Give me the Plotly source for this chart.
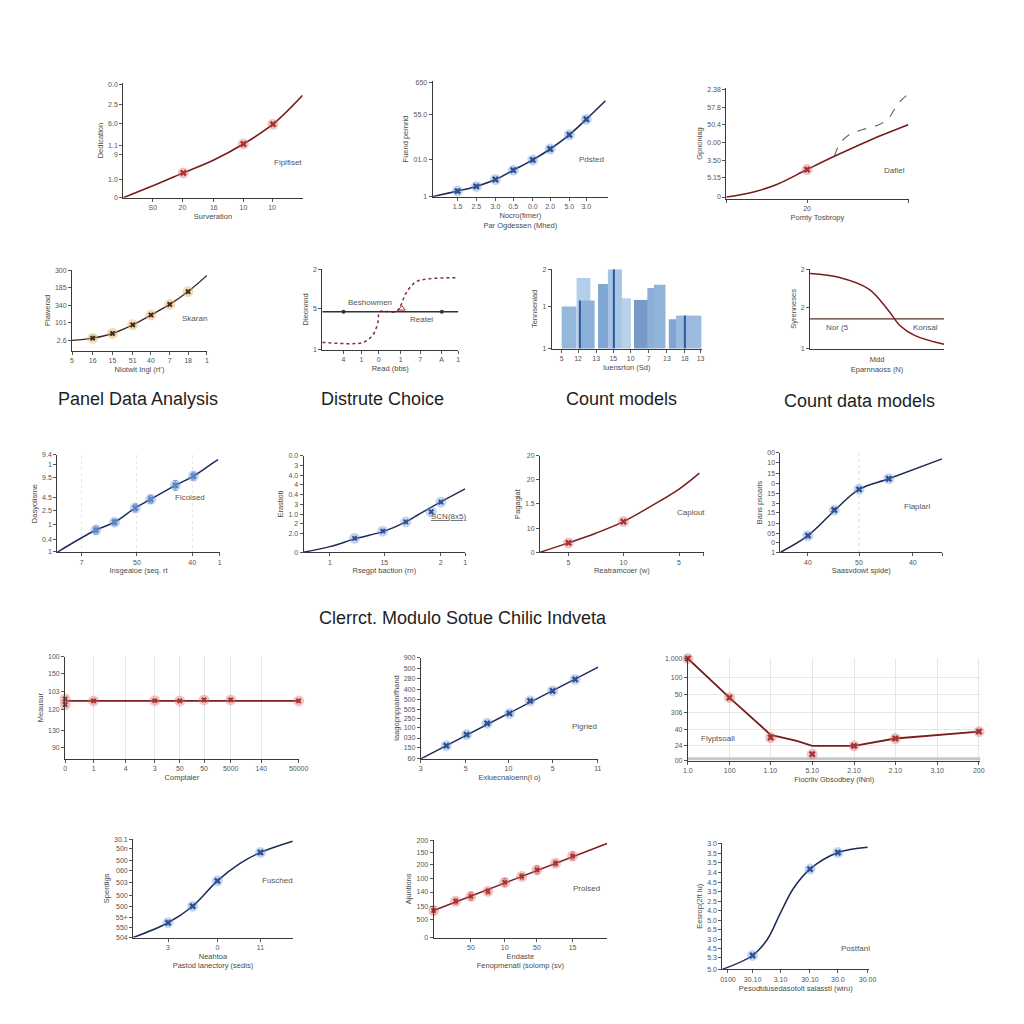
import plotly.graph_objects as go

W, H = 1024, 1024
NAVY = "#1c2a5a"
DRED = "#7a1c1c"
RED = "#a83232"
BLUE = "#2f4f95"
BROWN = "#3e2a1c"
ORANGE = "#b5762a"
HALO_B = "rgba(110,150,215,0.40)"
HALO_R = "rgba(215,110,110,0.40)"
HALO_O = "rgba(225,175,105,0.45)"
FONT = "Liberation Sans, Arial, sans-serif"
TICK_FONT = dict(family=FONT, size=7, color="#555555")
TITLE_FONT = dict(family=FONT, size=7.5, color="#4a4a4a")
LABEL_FONT = dict(family=FONT, size=8, color="#555555")

# ================= DATA =================
# Panel 1
p1_line_x = [0, 16.5, 33.5, 50.5, 67, 83.5, 100]
p1_line_y = [0, 10.4, 21.7, 33, 47, 64.3, 89.6]
p1_pts_x = [33.5, 67, 83.5]
p1_pts_y = [21.7, 47, 64.3]
p1_xt = [16.5, 33, 50.5, 67, 83]
p1_xl = ["S0", "20", "16", "10", "10"]
p1_yt = [0, 16, 37.4, 46, 65, 81.7, 99.4]
p1_yl = ["0", "1.0", "9", "1.1", "6.0", "2.5", "0.0"]

# Panel 2
p2_line_x = [0, 14.2, 24.9, 35.8, 46, 57.1, 67, 77.9, 87.6, 98.5]
p2_line_y = [0, 4.9, 8.9, 14.9, 23, 31.9, 41.4, 53.7, 67.2, 83.3]
p2_pts_x = [14.2, 24.9, 35.8, 46, 57.1, 67, 77.9, 87.6]
p2_pts_y = [4.9, 8.9, 14.9, 23, 31.9, 41.4, 53.7, 67.2]
p2_xt = [14.2, 24.9, 35.8, 46, 57.1, 67, 77.9, 87.6]
p2_xl = ["1.5", "2.5", "3.0", "0.5", "0.0", "2.0", "5.0", "3.0"]
p2_yt = [0, 32, 71, 99]
p2_yl = ["1", "01.0", "55.0", "650"]

# Panel 3
p3_line_x = [0, 13.3, 27.7, 44.3, 59.3, 78.2, 99.8]
p3_line_y = [1.5, 5.4, 12.9, 26.4, 38.4, 52.6, 67]
p3_dash_x = [59.3, 62, 67.4, 74.6, 83.6, 89, 94.4, 99.8]
p3_dash_y = [38.4, 49, 58, 62.5, 67, 73, 86.5, 95]
p3_pts_x = [44.3]
p3_pts_y = [26.4]
p3_xt = [0, 44.3, 100]
p3_xl = ["", "20", ""]
p3_yt = [1.5, 19.5, 34.8, 51, 66.9, 83, 99]
p3_yl = ["0", "5.15", "3.50", "0.00", "50.4", "57.8", "2.38"]

# Panel 4
p4_line_x = [0, 15.3, 30, 45, 58.5, 72.4, 86, 100]
p4_line_y = [12.7, 15.5, 21.3, 32, 44.3, 57.4, 73.4, 93.5]
p4_pts_x = [15.3, 30, 45, 58.5, 72.4, 86]
p4_pts_y = [15.5, 21.3, 32, 44.3, 57.4, 73.4]
p4_xt = [0, 15.3, 30, 45, 58.5, 72.4, 86, 100]
p4_xl = ["5", "16", "15", "51", "40", "7", "18", "1"]
p4_yt = [12.7, 35, 56.5, 79, 100]
p4_yl = ["2.6", "101", "340", "185", "300"]

# Panel 5
p5_flat_x = [0, 100]
p5_flat_y = [47, 47]
p5_sig_x = [0, 20.5, 30.1, 37.3, 41, 42.2, 54.2, 57.8, 61.4, 68.6, 78.3, 100]
p5_sig_y = [9, 7.4, 9, 18.4, 34.8, 47.1, 47.1, 55.3, 69.6, 84, 88, 89.3]
p5_pts_x = [15.6, 87.9]
p5_pts_y = [47, 47]
p5_tri_x = [58.5]
p5_tri_y = [51]
p5_xt = [15.5, 28.8, 41.5, 57.7, 72, 87.7, 100]
p5_xl = ["4", "1", "0", "1", "7", "A", "1"]
p5_yt = [0, 51, 100]
p5_yl = ["1", "5", "2"]

# Panel 6 (bars)
p6_bar_x = [11.5, 21.1, 23.6, 35.5, 42.1, 49.8, 59.6, 66.5, 72.0, 80.8, 91.4]
p6_bar_w = [9.9, 9.2, 9.9, 9.4, 9.4, 5.9, 9.5, 5.5, 7.7, 5.5, 17.2]
p6_bar_h = [53, 88.8, 60.5, 81.3, 100, 63.4, 61.3, 76.3, 80.4, 37, 41.6]
p6_bar_c = ["#8fb4dc", "#b0cdea", "#86acd6", "#7aa2cf", "#a3c3e5", "#b4cfea",
            "#6e96c6", "#86acd6", "#8ab0d9", "#7aa2cf", "#95b8de"]
p6_edge_x = [18.9, 41.2, 88.8]
p6_edge_h = [60.5, 100, 41.6]
p6_xt = [6.6, 17.5, 29.6, 41, 52.6, 64.7, 76.8, 88.8, 99.3]
p6_xl = ["5", "12", "13", "15", "10", "7", "13", "18", "13"]
p6_yt = [0, 53, 100]
p6_yl = ["1", "1", "2"]

# Panel 7
p7_curve_x = [0, 22, 43.9, 58.5, 67, 78, 100]
p7_curve_y = [94.6, 89.6, 75, 48, 29.2, 16.7, 5.4]
p7_flat_x = [0, 100]
p7_flat_y = [37.5, 37.5]
p7_yt = [0, 52, 100]
p7_yl = ["1", "2", "2"]

# Panel 8
p8_line_x = [0, 23.8, 35.3, 48, 57.5, 72.7, 83.8, 94.9, 98.9]
p8_line_y = [0, 22.8, 30.9, 45.5, 54.4, 68.7, 78.2, 90.8, 95.2]
p8_pts_x = [23.8, 35.3, 48, 57.5, 72.7, 83.8]
p8_pts_y = [22.8, 30.9, 45.5, 54.4, 68.7, 78.2]
p8_err = [4, 3, 4, 4, 5, 4]
p8_xt = [15, 49, 83, 100]
p8_xl = ["7", "50", "40", "1"]
p8_yt = [0.6, 12.6, 28.9, 43, 56, 77, 89.8, 100]
p8_yl = ["1", "0.4", "1", "2.5", "4.5", "9.5", "1", "9.4"]

# Panel 9
p9_line_x = [0, 16.3, 32.7, 50, 63.3, 70.4, 84.7, 100]
p9_line_y = [0, 5.8, 14.4, 21.9, 31.5, 38.4, 52.1, 65.8]
p9_pts_x = [31.6, 49, 63.3, 79, 85]
p9_pts_y = [14.4, 21.9, 31.5, 42, 52]
p9_xt = [16.3, 50, 84.9, 100]
p9_xl = ["1", "15", "2", "1"]
p9_yt = [0, 19.5, 29.8, 39.4, 49.3, 59.6, 69.9, 79.4, 90.4, 100]
p9_yl = ["0", "2.0", "2", "1.0", "3", "0.4", "4", "4.0", "3", "0.0"]

# Panel 10
p10_line_x = [0, 17.4, 34.4, 51, 68.4, 85, 97.4]
p10_line_y = [0, 9.7, 20, 31.8, 48.3, 65.5, 82.1]
p10_pts_x = [17.4, 51]
p10_pts_y = [9.7, 31.8]
p10_xt = [17.4, 51, 85, 100]
p10_xl = ["5", "10", "5", ""]
p10_yt = [0, 25, 51, 75, 100]
p10_yl = ["0", "10", "1.5", "20", "20"]

# Panel 11
p11_line_x = [0, 17, 33.3, 48.6, 67, 100]
p11_line_y = [0, 16.7, 41.7, 63.3, 74, 94]
p11_pts_x = [17, 33.3, 48.6, 67]
p11_pts_y = [16.7, 42.5, 63.3, 74]
p11_ref_x = 48.6
p11_xt = [17, 48.6, 81.9, 100]
p11_xl = ["40", "50", "40", ""]
p11_yt = [0, 9.3, 19.3, 29, 40, 49.3, 59, 69.3, 79.3, 90, 100]
p11_yl = ["1", "0", "05", "10", "15", "3", "15", "0", "15", "10", "00"]

# Panel 12
p12_flat_x = [0, 100]
p12_flat_y = [56.6, 56.6]
p12_pts_x = [0, 0, 12.2, 38.4, 49.1, 59.5, 70.9, 100]
p12_pts_y = [58.5, 53, 56.6, 56.8, 56.6, 57.6, 57.6, 56.6]
p12_xt = [0, 12.2, 26, 38.4, 49.1, 59.5, 70.9, 84, 100]
p12_xl = ["0", "1", "4", "3", "50", "50", "5000", "140", "50000"]
p12_yt = [10.7, 28, 48.4, 66, 83, 100]
p12_yl = ["90", "130", "120", "103", "150", "100"]

# Panel 13
p13_line_x = [0, 100]
p13_line_y = [0, 90.5]
p13_pts_x = [14.4, 25.8, 37.4, 50, 61.6, 74.3, 87]
p13_pts_y = [13, 23.9, 35, 44.8, 57.2, 67, 78.4]
p13_xt = [0, 25.3, 49.4, 74.3, 99.8]
p13_xl = ["3", "5", "10", "5", "11"]
p13_yt = [0.7, 10.7, 20.5, 31, 40, 48.9, 58.6, 68.4, 79, 89, 100]
p13_yl = ["60", "150", "030", "100", "250", "505", "500", "400", "280", "500", "900"]

# Panel 14
p14_line_x = [0, 14.2, 28.3, 37.2, 42.5, 56.8, 70.9, 99.5]
p14_line_y = [100, 61.7, 25.4, 19.5, 14.6, 14.6, 21.8, 28.6]
p14_pts_x = [0, 14.2, 28.3, 42.5, 56.8, 70.9, 99.5]
p14_pts_y = [100, 61.7, 22.7, 6.5, 14.6, 21.8, 28.6]
p14_base_y = 2
p14_xt = [0, 14.3, 28.2, 42.5, 56.8, 70.9, 85.2, 99.4]
p14_xl = ["1.0", "100", "1.10", "5.10", "2.10", "2.10", "3.10", "200"]
p14_yt = [0, 14.6, 31, 47.2, 64.4, 81, 100]
p14_yl = ["00", "24", "40", "306", "50", "100", "1.000"]

# Panel 15
p15_line_x = [0, 21.9, 37.3, 52.8, 67, 79.8, 100]
p15_line_y = [0, 15.1, 31.9, 57.7, 75.5, 86.6, 98]
p15_pts_x = [21.9, 37.3, 52.8, 79.8]
p15_pts_y = [15.1, 31.9, 57.7, 86.6]
p15_xt = [21.9, 52.8, 79.8]
p15_xl = ["3", "0", "11"]
p15_yt = [0, 10, 20.1, 31.9, 42.6, 56, 67.8, 78.2, 90.6, 100]
p15_yl = ["504", "550", "55+", "500", "500", "503", "060", "500", "50n", "30.1"]

# Panel 16
p16_line_x = [0, 100]
p16_line_y = [27.8, 96.6]
p16_pts_x = [0, 12.7, 21.5, 31.3, 41, 50.8, 59.6, 70.3, 80.1]
p16_pts_y = [27.8, 37.3, 42.4, 47.5, 56.7, 62.8, 69.5, 76.3, 83.7]
p16_err = [4, 3, 4, 3, 4, 3, 4, 3, 4]
p16_xt = [21.5, 41, 59.6, 80.1]
p16_xl = ["50", "10", "50", "15"]
p16_yt = [0, 18.6, 32.2, 46.8, 61, 74.6, 87.5, 100]
p16_yl = ["0", "500", "150", "140", "100", "200", "150", "200"]

# Panel 17
p17_line_x = [0, 20.6, 30.6, 39.6, 48.6, 59.7, 78.7, 98.9]
p17_line_y = [0, 11, 23.7, 44.8, 64.5, 79.5, 92.6, 96.9]
p17_pts_x = [20.6, 59.7, 78.7]
p17_pts_y = [11, 79.5, 92.6]
p17_xt = [3.8, 20.6, 39.6, 59.7, 78.7, 98.9]
p17_xl = ["0100", "30.10", "3.10", "30.10", "30.0", "30.00"]
p17_yt = [0, 9.2, 16.6, 23.7, 31.6, 38.9, 46.6, 53.9, 61.8, 69.2, 77.1, 84.7, 92.1, 100]
p17_yl = ["5.0", "5.3", "4.5", "3.0", "6.5", "5.0", "4.0", "2.5", "3.5", "4.5", "3.4", "3.5", "3.5", "3.0"]

section_titles = ["Panel Data Analysis", "Distrute Choice", "Count models",
                  "Count data models", "Clerrct. Modulo Sotue Chilic Indveta"]

# ================= FIGURE =================
fig = go.Figure()


def axn(n, a):
    return a if n == 1 else f"{a}{n}"


def add_axes(n, box, xt, xl, yt, yl, xtitle, ytitle, gx=False, gy=False, gdash="solid"):
    x0, y0, x1, y1 = box
    common = dict(range=[0, 100], showline=True, linecolor="#3a3a3a", linewidth=1,
                  ticks="outside", ticklen=3, tickcolor="#555", tickfont=TICK_FONT,
                  zeroline=False, fixedrange=True, gridcolor="#e6e6e6", griddash=gdash)
    xa = dict(common, domain=[x0 / W, x1 / W], anchor=axn(n, "y"), tickvals=xt, ticktext=xl,
              showgrid=gx, title=dict(text=xtitle, font=TITLE_FONT, standoff=3))
    ya = dict(common, domain=[1 - y1 / H, 1 - y0 / H], anchor=axn(n, "x"), tickvals=yt, ticktext=yl,
              showgrid=gy, title=dict(text=ytitle, font=TITLE_FONT, standoff=3))
    fig.update_layout(**{("xaxis" if n == 1 else f"xaxis{n}"): xa,
                         ("yaxis" if n == 1 else f"yaxis{n}"): ya})


def line(n, x, y, color, width=1.5, dash="solid", shape="spline"):
    fig.add_trace(go.Scatter(x=x, y=y, mode="lines", cliponaxis=False,
                             line=dict(color=color, width=width, dash=dash, shape=shape),
                             xaxis=axn(n, "x"), yaxis=axn(n, "y"), hoverinfo="skip"))


def points(n, x, y, color, halo, err=None, symbol="x", size=6):
    fig.add_trace(go.Scatter(x=x, y=y, mode="markers", cliponaxis=False,
                             marker=dict(symbol="circle", size=11, color=halo),
                             xaxis=axn(n, "x"), yaxis=axn(n, "y"), hoverinfo="skip"))
    kw = {}
    if err is not None:
        kw["error_y"] = dict(type="data", array=err, color=halo.replace("0.40", "0.9").replace("0.45", "0.9"),
                             thickness=1, width=2)
    fig.add_trace(go.Scatter(x=x, y=y, mode="markers", cliponaxis=False,
                             marker=dict(symbol=symbol, size=size, color=color),
                             xaxis=axn(n, "x"), yaxis=axn(n, "y"), hoverinfo="skip", **kw))


def label(n, x, y, text, font=LABEL_FONT):
    fig.add_annotation(x=x, y=y, xref=axn(n, "x"), yref=axn(n, "y"), text=text,
                       showarrow=False, font=font, xanchor="center", yanchor="middle")


# Panel 1
add_axes(1, (120, 80, 302, 195), p1_xt, p1_xl, p1_yt, p1_yl, "Surveration", "Dedication")
line(1, p1_line_x, p1_line_y, DRED, 1.6)
points(1, p1_pts_x, p1_pts_y, RED, HALO_R)
label(1, 91.8, 30.4, "Fiplfiset")

# Panel 2
add_axes(2, (434, 78, 612, 194), p2_xt, p2_xl, p2_yt, p2_yl,
         "Nocro(fimer)<br>Par Ogdessen (Mhed)", "Fuend pernrid")
line(2, p2_line_x, p2_line_y, NAVY, 1.6)
points(2, p2_pts_x, p2_pts_y, BLUE, HALO_B)
label(2, 90.4, 31.9, "Pdsted")

# Panel 3
add_axes(3, (732, 85, 917, 196), p3_xt, p3_xl, p3_yt, p3_yl, "Pomty Tosbropy", "Gpnoniag")
line(3, p3_dash_x, p3_dash_y, "#6a6a6a", 1.2, dash="dash")
line(3, p3_line_x, p3_line_y, DRED, 1.6)
points(3, p3_pts_x, p3_pts_y, RED, HALO_R)
label(3, 92.4, 25.2, "Dafiel")

# Panel 4
add_axes(4, (68, 268, 205, 349), p4_xt, p4_xl, p4_yt, p4_yl, "Nlotwit Ingl (rt')", "Plawerad")
line(4, p4_line_x, p4_line_y, BROWN, 1.4)
points(4, p4_pts_x, p4_pts_y, BROWN, HALO_O, size=5)
label(4, 90.5, 39.7, "Skaran")

# Panel 5
add_axes(5, (322, 267, 460, 348), p5_xt, p5_xl, p5_yt, p5_yl, "Read (bbs)", "Dieonnnd")
line(5, p5_sig_x, p5_sig_y, "#8b2a2a", 1.5, dash="dot")
line(5, p5_flat_x, p5_flat_y, "#333333", 1.4, shape="linear")
fig.add_trace(go.Scatter(x=p5_pts_x, y=p5_pts_y, mode="markers", marker=dict(size=4, color="#333"),
                         xaxis="x5", yaxis="y5", hoverinfo="skip"))
fig.add_trace(go.Scatter(x=p5_tri_x, y=p5_tri_y, mode="markers",
                         marker=dict(symbol="triangle-up-open", size=6, color=RED),
                         xaxis="x5", yaxis="y5", hoverinfo="skip"))
label(5, 35, 58, "Beshowmen")
label(5, 73.3, 37.3, "Reatel")

# Panel 6
add_axes(6, (555, 267, 707, 347), p6_xt, p6_xl, p6_yt, p6_yl, "Iuensrton (Sd)", "Tennseniad")
fig.add_trace(go.Bar(x=p6_bar_x, y=p6_bar_h, width=p6_bar_w, marker=dict(color=p6_bar_c, line=dict(width=0)),
                     opacity=0.95, xaxis="x6", yaxis="y6", hoverinfo="skip"))
fig.add_trace(go.Bar(x=p6_edge_x, y=p6_edge_h, width=[0.8, 0.8, 0.8], marker=dict(color="#2d5a96", line=dict(width=0)),
                     xaxis="x6", yaxis="y6", hoverinfo="skip"))
fig.update_layout(barmode="overlay")

# Panel 7
add_axes(7, (817, 267, 953, 347), [], [], p7_yt, p7_yl, "Mdd<br>Eparnnaoss (N)", "Syrenneses")
line(7, p7_flat_x, p7_flat_y, "#5a2a22", 1.4, shape="linear")
line(7, p7_curve_x, p7_curve_y, DRED, 1.5)
label(7, 20.7, 27, "Nor (5")
label(7, 86.5, 27, "Konsal")

# Panel 8
add_axes(8, (53, 454, 218, 552), p8_xt, p8_xl, p8_yt, p8_yl, "Insgeaioe (seq. rt", "Dasyoiisrne",
         gx=True, gdash="dot")
line(8, p8_line_x, p8_line_y, NAVY, 1.5)
points(8, p8_pts_x, p8_pts_y, "#5a84c4", HALO_B, err=p8_err)
label(8, 81.6, 56.4, "Ficolsed")

# Panel 9
add_axes(9, (303, 455, 467, 552), p9_xt, p9_xl, p9_yt, p9_yl, "Rsegpt baction (rn)", "Erastioti")
line(9, p9_line_x, p9_line_y, NAVY, 1.5)
points(9, p9_pts_x, p9_pts_y, BLUE, HALO_B, size=5)
label(9, 89.8, 36.6, "<u>SCN(8x5)</u>")

# Panel 10
add_axes(10, (543, 455, 709, 552), p10_xt, p10_xl, p10_yt, p10_yl, "Reatramcoer (w)", "Pagagiat")
line(10, p10_line_x, p10_line_y, DRED, 1.5)
points(10, p10_pts_x, p10_pts_y, RED, HALO_R)
label(10, 92.4, 41.4, "Caplout")

# Panel 11
add_axes(11, (787, 452, 951, 552), p11_xt, p11_xl, p11_yt, p11_yl, "Saasvdowt spide)", "Bans psoaris")
line(11, [p11_ref_x, p11_ref_x], [0, 100], "#d0d0d0", 0.8, dash="dot", shape="linear")
line(11, p11_line_x, p11_line_y, NAVY, 1.5)
points(11, p11_pts_x, p11_pts_y, BLUE, HALO_B)
label(11, 84.3, 45.7, "Flaplarl")

# Panel 12
add_axes(12, (61, 657, 298, 760), p12_xt, p12_xl, p12_yt, p12_yl, "Comptaler", "Meausur", gx=True)
line(12, p12_flat_x, p12_flat_y, DRED, 1.6, shape="linear")
points(12, p12_pts_x, p12_pts_y, RED, HALO_R, symbol="x", size=5)
label(12, 108.5, 65, "Pipouel", dict(family=FONT, size=8, color="#9a4040"))
label(12, 108.5, 56.6, "Plikde")

# Panel 13
add_axes(13, (422, 658, 602, 760), p13_xt, p13_xl, p13_yt, p13_yl, "Exluecnaloenn(l o)", "Iaagopnppainlfhand")
line(13, p13_line_x, p13_line_y, NAVY, 1.5, shape="linear")
points(13, p13_pts_x, p13_pts_y, BLUE, HALO_B)
label(13, 92.2, 32, "Pigried")

# Panel 14
add_axes(14, (693, 659, 990, 762), p14_xt, p14_xl, p14_yt, p14_yl, "Fiocrliv Gbsodbey (lNnl)", "", gx=True, gy=True)
line(14, [0, 100], [p14_base_y, p14_base_y], "#c8c8c8", 3, shape="linear")
line(14, p14_line_x, p14_line_y, DRED, 1.8, shape="linear")
points(14, p14_pts_x, p14_pts_y, RED, HALO_R)
label(14, 10.2, 22, "Flyptsoall")

# Panel 15
add_axes(15, (130, 841, 292, 940), p15_xt, p15_xl, p15_yt, p15_yl,
         "Neahtoa<br>Pastod lanectory (sedis)", "Sperdigs")
line(15, p15_line_x, p15_line_y, NAVY, 1.5)
points(15, p15_pts_x, p15_pts_y, BLUE, HALO_B)
label(15, 90.3, 58.4, "Fusched")

# Panel 16
add_axes(16, (435, 842, 611, 940), p16_xt, p16_xl, p16_yt, p16_yl,
         "Endaste<br>Fenopmenatl (solomp (sv)", "Ajuntions")
line(16, p16_line_x, p16_line_y, DRED, 1.5, shape="linear")
points(16, p16_pts_x, p16_pts_y, RED, HALO_R, err=p16_err, size=5)
label(16, 87.9, 50.9, "Prolsed")

# Panel 17
add_axes(17, (728, 845, 877, 972), p17_xt, p17_xl, p17_yt, p17_yl,
         "Pesodtdusedasotolt salasstl (wiru)", "Eesrop(2ft lu)")
line(17, p17_line_x, p17_line_y, NAVY, 1.5)
points(17, p17_pts_x, p17_pts_y, BLUE, HALO_B)
label(17, 90.6, 16.3, "Postfanl")

# Section titles
SEC_FONT = dict(family="Liberation Sans, Arial, sans-serif", size=18, color="#1e1e1e")
sec_pos = [(135, 398), (383, 398), (626, 398), (867, 400), (465, 618)]
for t, (px, py) in zip(section_titles, sec_pos):
    fig.add_annotation(x=px / W, y=1 - py / H, xref="paper", yref="paper", text=t,
                       showarrow=False, font=SEC_FONT, xanchor="center", yanchor="middle")

fig.update_layout(width=W, height=H, margin=dict(l=0, r=0, t=0, b=0),
                  plot_bgcolor="white", paper_bgcolor="white", showlegend=False)

fig.write_html("out.html")
